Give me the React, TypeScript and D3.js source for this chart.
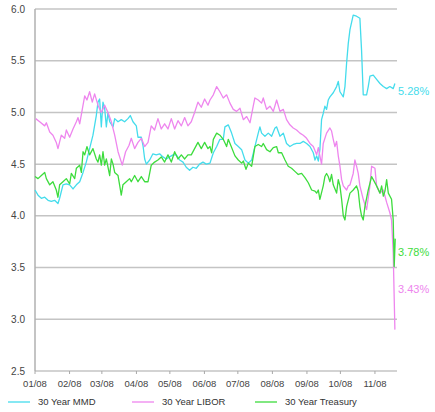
import React from "react";
import * as d3 from "d3";

// [day offset from 2008-01-01, yield %]
const mmd: [number, number][] = [
  [0,4.25],[2.7,4.20],[5.7,4.17],[8.7,4.18],[11.7,4.15],[14.6,4.14],[17.6,4.15],[20.6,4.12],[22.1,4.17],[25.1,4.30],[28.1,4.31],[31.1,4.30],[34.1,4.26],[37.1,4.30],[40.1,4.33],[43.1,4.42],[46.0,4.52],[49.0,4.65],[52.0,4.78],[55.0,4.97],[56.5,5.10],[58.0,5.13],[59.5,4.86],[61.0,5.10],[62.5,5.04],[64.0,4.86],[65.5,5.00],[67.0,4.91],[70.0,4.86],[71.5,4.94],[74.5,4.91],[77.4,4.93],[80.4,4.91],[83.4,4.94],[85.5,4.97],[87.9,4.91],[90.9,4.87],[92.4,4.76],[95.4,4.76],[96.9,4.68],[98.4,4.55],[99.9,4.50],[102.9,4.54],[105.8,4.60],[108.8,4.59],[111.8,4.60],[114.8,4.57],[117.8,4.55],[120.8,4.57],[123.8,4.59],[126.8,4.59],[129.8,4.54],[132.8,4.52],[135.7,4.47],[138.7,4.44],[141.7,4.47],[144.7,4.46],[147.7,4.50],[150.7,4.52],[153.7,4.50],
  [157.0,4.51],[160.0,4.61],[163.0,4.67],[165.9,4.74],[168.9,4.74],[170.4,4.86],[173.4,4.88],[176.4,4.80],[179.4,4.70],[182.4,4.67],[185.4,4.64],[188.4,4.54],[191.4,4.51],[194.4,4.54],[197.3,4.67],[200.3,4.80],[201.8,4.86],[203.3,4.80],[206.3,4.77],[209.3,4.80],[212.3,4.77],[215.3,4.85],[216.8,4.86],[219.8,4.77],[222.8,4.80],[225.7,4.70],[228.7,4.67],[231.7,4.69],[234.7,4.70],[237.7,4.70],[240.7,4.72],[243.7,4.70],[246.7,4.67],[249.7,4.61],[251.2,4.54],[252.7,4.58],[254.2,4.53],[255.6,4.64],[257.1,4.93],[258.6,4.99],[260.1,5.06],[261.6,5.03],[263.1,5.12],[264.6,5.15],[267.6,5.19],[270.6,5.25],[272.1,5.30],[273.6,5.20],[276.6,5.15],[278.1,5.25],[279.6,5.48],[281.1,5.67],[282.6,5.80],[285.5,5.94],[288.5,5.93],[291.5,5.91],[293.0,5.60],[294.5,5.17],[297.5,5.17],[299.0,5.25],[300.5,5.35],[303.5,5.36],[306.5,5.32],[309.5,5.28],[312.5,5.25],[315.5,5.23],[318.4,5.25],[321.4,5.23],[322.9,5.28]
];

const libor: [number, number][] = [
  [0.6,4.94],[4.2,4.91],[8.7,4.87],[10.2,4.90],[13.2,4.81],[16.1,4.78],[19.1,4.71],[20.6,4.65],[23.6,4.78],[26.6,4.75],[28.1,4.83],[31.1,4.76],[34.1,4.84],[37.1,4.91],[38.6,4.95],[40.1,4.89],[43.1,5.07],[44.6,5.16],[46.6,5.12],[49.0,5.20],[51.4,5.10],[53.5,5.18],[56.5,5.07],[59.5,5.00],[62.5,5.07],[65.5,5.00],[68.5,4.91],[71.5,4.78],[74.5,4.62],[78.3,4.49],[81.3,4.62],[84.3,4.68],[86.4,4.75],[89.4,4.65],[92.4,4.71],[95.4,4.75],[98.4,4.67],[101.4,4.71],[104.3,4.87],[107.3,4.83],[110.3,4.94],[113.3,4.84],[116.3,4.89],[119.3,4.84],[122.3,4.94],[125.3,4.84],[128.3,4.92],[131.3,4.87],[134.3,4.95],[137.2,4.87],[140.2,4.91],[143.2,5.00],[146.2,5.10],[149.2,5.05],[152.2,5.13],[155.2,5.07],
  [157.0,5.12],[160.0,5.17],[163.0,5.25],[165.9,5.20],[168.9,5.14],[171.9,5.17],[174.9,5.09],[177.9,5.03],[180.9,5.01],[183.9,5.04],[186.9,4.93],[189.9,4.96],[192.9,4.90],[195.8,5.06],[197.3,5.14],[200.3,5.12],[203.3,5.09],[204.8,5.14],[207.8,5.03],[210.8,5.06],[213.8,5.01],[216.8,5.12],[219.8,5.01],[222.8,5.03],[225.7,4.93],[228.7,4.88],[231.7,4.85],[234.7,4.83],[237.7,4.80],[240.7,4.78],[243.7,4.75],[246.7,4.70],[249.7,4.67],[252.7,4.59],[254.2,4.66],[255.6,4.58],[257.1,4.50],[258.6,4.70],[261.6,4.80],[264.6,4.85],[266.1,4.82],[267.6,4.74],[269.1,4.67],[270.6,4.72],[272.1,4.58],[273.6,4.48],[275.1,4.35],[276.6,4.29],[279.6,4.25],[281.1,4.29],[282.6,4.30],[285.5,4.41],[287.0,4.54],[288.5,4.48],[290.0,4.41],[291.5,4.29],[294.5,4.16],[297.5,4.06],[300.5,4.29],[302.0,4.48],[305.0,4.46],[306.5,4.29],[309.5,4.22],[312.5,4.25],[314.0,4.19],[315.5,4.13],[318.4,4.03],[319.9,3.96],[321.4,3.64],[322.9,2.90]
];

const treasury: [number, number][] = [
  [0,4.38],[2.7,4.36],[5.7,4.39],[8.7,4.42],[10.2,4.36],[13.2,4.30],[16.1,4.33],[19.1,4.25],[20.6,4.18],[22.1,4.30],[25.1,4.33],[28.1,4.36],[31.1,4.31],[32.6,4.41],[35.6,4.36],[37.1,4.46],[40.1,4.49],[41.6,4.42],[43.1,4.62],[44.6,4.59],[46.6,4.67],[49.0,4.59],[52.0,4.65],[55.0,4.55],[56.5,4.52],[58.0,4.59],[59.5,4.49],[61.0,4.62],[62.5,4.49],[64.0,4.55],[67.0,4.39],[68.5,4.55],[70.0,4.50],[71.5,4.42],[74.5,4.39],[75.9,4.30],[77.4,4.20],[78.9,4.30],[81.9,4.33],[84.9,4.36],[86.4,4.33],[89.4,4.39],[92.4,4.33],[95.4,4.38],[98.4,4.33],[101.4,4.33],[104.3,4.49],[107.3,4.52],[110.3,4.54],[113.3,4.57],[116.3,4.52],[119.3,4.59],[122.3,4.52],[125.3,4.62],[128.3,4.55],[131.3,4.59],[134.3,4.55],[137.2,4.59],[140.2,4.59],[143.2,4.65],[146.2,4.71],[149.2,4.65],[152.2,4.71],[155.2,4.65],
  [157.0,4.67],[158.5,4.61],[160.0,4.74],[163.0,4.80],[165.9,4.78],[168.9,4.74],[171.9,4.67],[173.4,4.74],[176.4,4.66],[179.4,4.58],[182.4,4.54],[185.4,4.51],[186.9,4.53],[189.3,4.45],[191.4,4.51],[194.4,4.48],[197.3,4.67],[200.3,4.69],[203.3,4.67],[204.8,4.70],[207.8,4.64],[210.8,4.62],[213.8,4.66],[216.8,4.67],[218.3,4.61],[221.3,4.61],[224.3,4.54],[227.2,4.48],[230.2,4.46],[233.2,4.43],[236.2,4.40],[239.2,4.41],[242.2,4.37],[245.2,4.32],[248.2,4.25],[251.2,4.24],[252.7,4.22],[254.2,4.25],[255.6,4.16],[258.6,4.29],[260.1,4.38],[261.6,4.41],[263.1,4.38],[264.6,4.33],[266.1,4.40],[267.6,4.30],[270.6,4.22],[272.1,4.35],[273.6,4.29],[275.1,4.16],[276.6,4.00],[278.1,3.96],[279.6,4.09],[282.6,4.22],[285.5,4.25],[288.5,4.29],[290.0,4.24],[291.5,4.09],[293.0,4.00],[294.5,3.96],[296.0,4.09],[299.0,4.25],[302.0,4.38],[303.5,4.35],[306.5,4.29],[309.5,4.22],[311.0,4.29],[312.5,4.19],[314.0,4.24],[315.5,4.35],[317.0,4.22],[319.9,4.16],[321.4,3.96],[322.3,3.51],[323.2,3.78]
];

const seriesNames = ["30 Year MMD", "30 Year LIBOR", "30 Year Treasury"];
const endLabels = ["5.28%", "3.43%", "3.78%"];
const endLabelValues = [5.28, 3.43, 3.78];
const yTicks = [2.5, 3.0, 3.5, 4.0, 4.5, 5.0, 5.5, 6.0];

const colors = ["#44dcec", "#ee86ee", "#3ddc3d"];
const labelDy = [8, 14, 14];

const W = 435, H = 412;
const start = Date.UTC(2008, 0, 1);
const toDate = (d: number) => new Date(start + d * 864e5);

export default function App() {
  const x = d3.scaleUtc().domain([toDate(0), toDate(323)]).range([35, 395]);
  const y = d3.scaleLinear().domain([2.5, 6.0]).range([371, 9]);
  const line = d3.line<[number, number]>()
    .x(d => x(toDate(d[0])))
    .y(d => y(d[1]));
  const months = d3.utcMonth.range(toDate(0), toDate(310));
  const fmt = d3.utcFormat("%m/%y");
  const series = [mmd, libor, treasury];
  const legendX = [8, 132, 255];
  const font = "Arial, 'Liberation Sans', sans-serif";

  return (
    <svg width={W} height={H} style={{ position: "absolute", left: 0, top: 0, background: "#fff" }}
      fontFamily={font}>
      {yTicks.map(t => (
        <g key={t}>
          {t > 2.5 && <line x1={35} x2={397} y1={y(t)} y2={y(t)} stroke="#c4c4c4" strokeWidth={1.5} />}
          <text x={25} y={y(t)} dy="0.35em" textAnchor="end" fontSize={10} fill="#444">{t.toFixed(1)}</text>
        </g>
      ))}
      <line x1={35} x2={35} y1={9} y2={371} stroke="#b0b0b0" strokeWidth={1.5} />
      <line x1={35} x2={397} y1={371} y2={371} stroke="#a8a8a8" strokeWidth={1.2} />
      {months.map(m => (
        <g key={+m}>
          <line x1={x(m)} x2={x(m)} y1={371} y2={374} stroke="#a8a8a8" />
          <text x={x(m)} y={387} textAnchor="middle" fontSize={9.5} fill="#444">{fmt(m)}</text>
        </g>
      ))}
      {series.map((s, i) => (
        <path key={i} d={line(s) || ""} fill="none" stroke={colors[i]} strokeWidth={1.3} strokeLinejoin="round" />
      ))}
      {endLabels.map((l, i) => {
        const idx = [0, 1, 2][i];
        const c = [colors[0], colors[1], colors[2]][i];
        return (
          <text key={l} x={398} y={y(endLabelValues[i]) + labelDy[i]} dy="0.35em" fontSize={11} fill={c}>{l}</text>
        );
      })}
      {seriesNames.map((n, i) => (
        <g key={n}>
          <line x1={legendX[i]} x2={legendX[i] + 22} y1={402} y2={402} stroke={colors[i]} strokeWidth={1.3} />
          <text x={legendX[i] + 30} y={402} dy="0.35em" fontSize={9.5} fill="#333">{n}</text>
        </g>
      ))}
    </svg>
  );
}
